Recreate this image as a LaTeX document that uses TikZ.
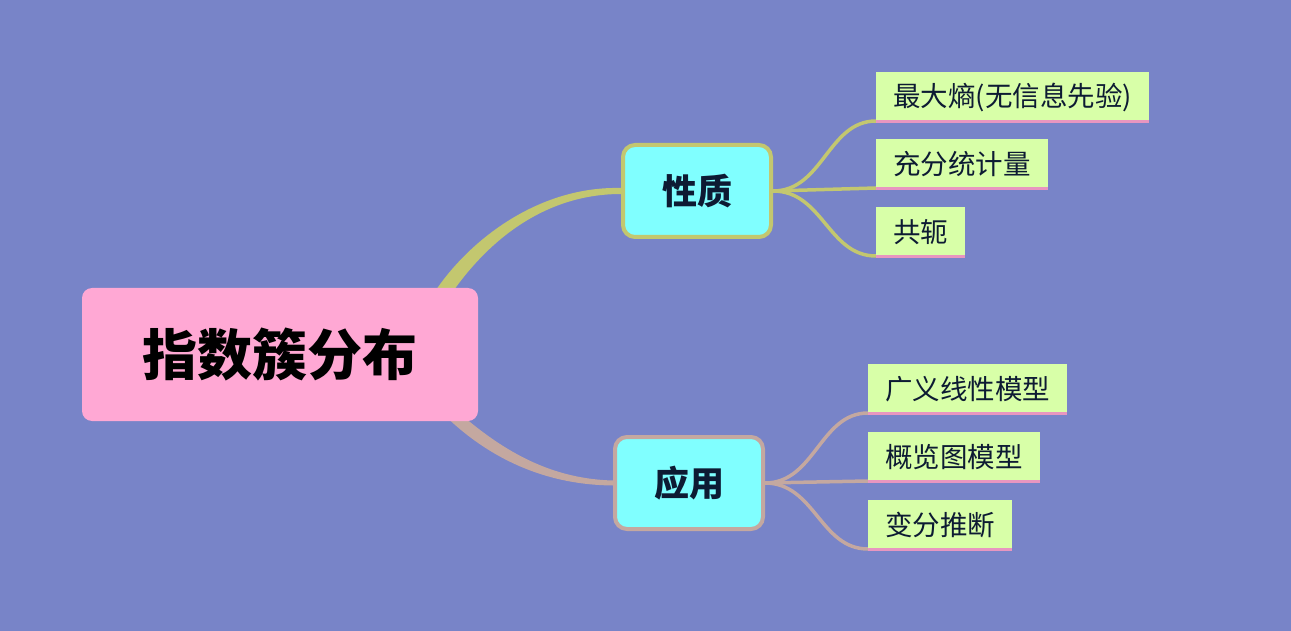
\documentclass[tikz,border=0pt]{standalone}
\usepackage{fontspec}
\newfontfamily\cjk{Noto Sans CJK SC}
\usetikzlibrary{calc}
\definecolor{bgc}{RGB}{120,132,200}
\definecolor{rootc}{RGB}{255,168,212}
\definecolor{midc}{RGB}{128,255,255}
\definecolor{olivec}{RGB}{195,199,111}
\definecolor{tanc}{RGB}{196,168,160}
\definecolor{leafc}{RGB}{216,255,168}
\definecolor{linec}{RGB}{232,150,192}
\definecolor{txtc}{RGB}{13,27,51}
\pgfdeclarelayer{bg}
\pgfsetlayers{bg,main}
\tikzset{
  rootbox/.style={fill=rootc, rounded corners=10pt, minimum width=396pt, minimum height=133pt, inner sep=0pt,
    font=\cjk\bfseries\fontsize{55}{60}\selectfont, text=black},
  midbox/.style={fill=midc, draw=#1, line width=4pt, rounded corners=12pt, minimum width=148pt, minimum height=92pt, inner sep=0pt,
    font=\cjk\bfseries\fontsize{35}{40}\selectfont, text=txtc},
  leafbox/.style={fill=leafc, anchor=south west, minimum height=51pt, inner xsep=17pt, inner ysep=0pt,
    font=\cjk\fontsize{27.5}{30}\selectfont, text=txtc},
  uline/.style={draw=linec, line width=3pt},
  twig/.style={draw=#1, line width=3.5pt},
}
\begin{document}
\begin{tikzpicture}[x=1pt,y=-1pt]
\useasboundingbox (0,0) rectangle (1291,631);
\begin{pgfonlayer}{bg}
\fill[bgc] (0,0) rectangle (1291,631);
\end{pgfonlayer}
% nodes
\node[rootbox] (root) at (280,354.5) {指数簇分布};
\node[midbox=olivec] (xz) at (697,191) {性质};
\node[midbox=tanc] (yy) at (689,483) {应用};
\node[leafbox] (l1) at (876,123) {最大熵(无信息先验)};
\node[leafbox] (l2) at (876,190) {充分统计量};
\node[leafbox] (l3) at (876,258) {共轭};
\node[leafbox] (a1) at (868,415) {广义线性模型};
\node[leafbox] (a2) at (868,483) {概览图模型};
\node[leafbox] (a3) at (868,551) {变分推断};
% underlines
\foreach \n in {l1,l2,l3,a1,a2,a3}{
  \draw[uline] ($(\n.south west)+(0,-1.5)$) -- ($(\n.south east)+(0,-1.5)$);
}
\begin{pgfonlayer}{bg}
% tapered main branches
\coordinate (r1a) at ($(root.north west)+(355,1)$);
\coordinate (r1b) at ($(root.north west)+(373,1)$);
\fill[olivec] (r1a) .. controls (472,238) and (540,186) .. ($(xz.west)+(0,-3)$)
  -- ($(xz.west)+(0,3)$) .. controls (545,194) and (490,240) .. (r1b) -- cycle;
\coordinate (r2a) at ($(root.south west)+(368,-1)$);
\coordinate (r2b) at ($(root.south west)+(386,-1)$);
\fill[tanc] (r2a) .. controls (495,462) and (550,485) .. ($(yy.west)+(0,2.5)$)
  -- ($(yy.west)+(0,-2.5)$) .. controls (555,479) and (510,455) .. (r2b) -- cycle;
% twigs
\draw[twig=olivec] (xz.east) .. controls +(50,0) and +(-48,0) .. ($(l1.south west)+(0,-2)$);
\draw[twig=olivec] (xz.east) -- ($(l2.south west)+(0,-2)$);
\draw[twig=olivec] (xz.east) .. controls +(50,0) and +(-48,0) .. ($(l3.south west)+(0,-2)$);
\draw[twig=tanc] (yy.east) .. controls +(50,0) and +(-48,0) .. ($(a1.south west)+(0,-2)$);
\draw[twig=tanc] (yy.east) -- ($(a2.south west)+(0,-2)$);
\draw[twig=tanc] (yy.east) .. controls +(50,0) and +(-48,0) .. ($(a3.south west)+(0,-2)$);
\end{pgfonlayer}
\end{tikzpicture}
\end{document}
